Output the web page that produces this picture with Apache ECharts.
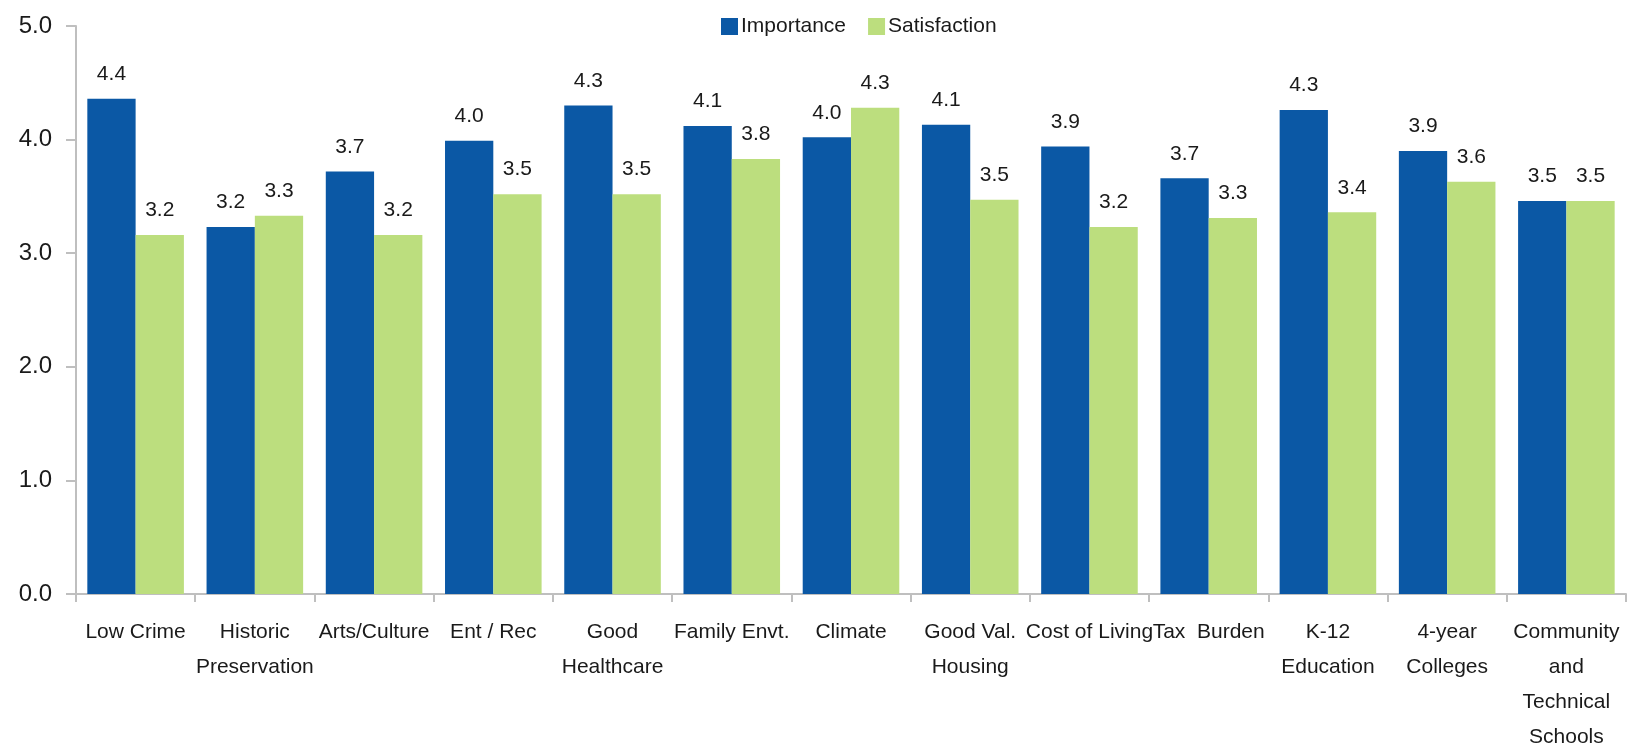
<!DOCTYPE html>
<html>
<head>
<meta charset="utf-8">
<script src="https://cdn.jsdelivr.net/npm/echarts@6/dist/echarts.min.js"></script>
<style>
html,body{margin:0;padding:0;background:#fff;}
#chart{width:1631px;height:748px;}
</style>
</head>
<body>
<div id="chart"></div>
<script>
var categories = ['Low Crime','Historic\nPreservation','Arts/Culture','Ent / Rec','Good\nHealthcare','Family Envt.','Climate','Good Val.\nHousing','Cost of Living','Tax  Burden','K-12\nEducation','4-year\nColleges','Community\nand\nTechnical\nSchools'];
var importance = [4.36, 3.23, 3.72, 3.99, 4.30, 4.12, 4.02, 4.13, 3.94, 3.66, 4.26, 3.90, 3.46];
var satisfaction = [3.16, 3.33, 3.16, 3.52, 3.52, 3.83, 4.28, 3.47, 3.23, 3.31, 3.36, 3.63, 3.46];
var yTicks = [0, 1, 2, 3, 4, 5];

var FONT = "'Liberation Sans Narrow','Arial Narrow','Liberation Sans',sans-serif";
var chart = echarts.init(document.getElementById('chart'));
var labelStyle = {
  show: true, position: 'top', distance: 14,
  fontFamily: FONT, fontSize: 21, color: '#1a1a1a',
  formatter: function(p){ return p.value.toFixed(1); }
};
chart.setOption({
  animation: false,
  textStyle: { fontFamily: FONT },
  legend: {
    top: 11, left: 716,
    itemWidth: 17, itemHeight: 17, itemGap: 22,
    icon: 'rect',
    textStyle: { fontFamily: FONT, fontSize: 21, color: '#1a1a1a', padding: [0,0,0,-2] },
    data: ['Importance','Satisfaction']
  },
  grid: { left: 76, right: 5, top: 26, bottom: 154, containLabel: false, outerBoundsMode: 'none' },
  xAxis: {
    type: 'category', data: categories,
    axisLine: { lineStyle: { color: '#bfbfbf', width: 2 } },
    axisTick: { show: true, length: 8, alignWithLabel: false, lineStyle: { color: '#bfbfbf', width: 2 } },
    axisLabel: { interval: 0, margin: 21, fontFamily: FONT, fontSize: 21, color: '#1a1a1a', lineHeight: 35 }
  },
  yAxis: {
    type: 'value', min: yTicks[0], max: yTicks[yTicks.length-1], interval: 1,
    axisLine: { show: true, lineStyle: { color: '#bfbfbf', width: 2 } },
    axisTick: { show: true, length: 10, lineStyle: { color: '#bfbfbf', width: 2 } },
    splitLine: { show: false },
    axisLabel: { margin: 24, fontFamily: FONT, fontSize: 24, color: '#1a1a1a',
      formatter: function(v){ return v.toFixed(1); } }
  },
  series: [
    { name: 'Importance', type: 'bar', data: importance, barGap: '0%', barCategoryGap: '19%',
      itemStyle: { color: '#0B58A5' }, label: labelStyle },
    { name: 'Satisfaction', type: 'bar', data: satisfaction, barGap: '0%', barCategoryGap: '19%',
      itemStyle: { color: '#BCDE7E' }, label: labelStyle }
  ]
});
</script>
</body>
</html>
